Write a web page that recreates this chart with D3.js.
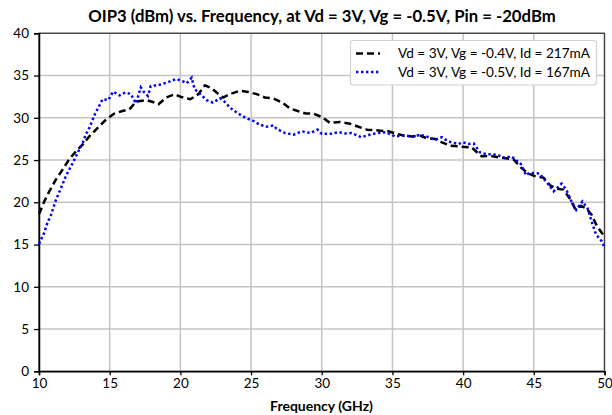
<!DOCTYPE html>
<html><head><meta charset="utf-8">
<script src="https://cdn.jsdelivr.net/npm/d3@7"></script>
<style>html,body{margin:0;padding:0;background:#fff;}svg{display:block;}</style>
</head><body>
<svg id="c" width="612" height="415"></svg>
<script>
const title = "OIP3 (dBm) vs. Frequency, at Vd = 3V, Vg = -0.5V, Pin = -20dBm";
const xLabel = "Frequency (GHz)";
const xTicks = [10, 15, 20, 25, 30, 35, 40, 45, 50];
const yTicks = [0, 5, 10, 15, 20, 25, 30, 35, 40];
const seriesNames = ["Vd = 3V, Vg = -0.4V, Id = 217mA", "Vd = 3V, Vg = -0.5V, Id = 167mA"];

const freqA = [10.0,10.37,10.73,11.2,11.68,12.14,12.62,13.1,13.56,14.15,14.74,15.33,15.9,16.4,16.85,17.6,18.0,18.45,19.0,19.6,20.0,20.7,21.27,21.74,22.2,22.7,23.03,23.5,24.2,24.8,25.4,25.98,26.57,27.2,27.75,28.3,28.9,29.4,30.0,30.58,31.3,32.0,32.5,33.2,34.0,34.7,35.2,35.8,36.35,36.95,37.4,38.0,38.5,39.1,39.8,40.6,41.0,41.3,41.9,42.6,43.55,44.1,44.6,45.07,45.7,46.15,46.6,47.1,47.6,47.93,48.3,48.7,49.1,49.4,49.8,50.0];
const oipA  = [18.6,20.1,21.3,22.7,23.9,25.1,26.05,26.85,27.8,28.8,29.8,30.5,30.8,31.0,31.9,32.1,31.9,31.6,32.4,32.8,32.5,32.2,32.8,33.85,33.5,32.8,32.4,32.8,33.2,33.05,32.8,32.4,32.3,31.8,31.1,30.8,30.5,30.5,30.1,29.4,29.5,29.3,29.0,28.6,28.5,28.4,28.15,27.9,27.8,27.9,27.6,27.5,27.1,26.7,26.6,26.5,25.9,25.45,25.5,25.3,25.1,24.1,23.4,23.1,22.9,22.0,21.6,21.5,20.3,19.2,19.6,19.3,18.5,17.4,16.4,16.0];

const freqB = [10.0,10.37,10.6,10.85,11.2,11.56,11.9,12.4,12.74,13.1,13.3,13.56,13.8,14.0,14.26,14.5,14.9,15.25,15.7,16.1,16.5,16.86,17.2,17.45,17.7,17.9,18.5,19.1,19.7,20.2,20.45,20.8,21.0,21.4,21.86,22.3,22.8,23.2,23.5,24.0,24.6,25.2,25.6,26.1,26.6,26.8,27.4,28.0,28.6,29.2,29.7,30.0,30.6,31.2,31.65,32.1,32.8,33.4,34.0,34.5,35.2,35.9,36.5,36.95,37.4,38.0,38.5,38.95,39.65,40.0,40.36,40.75,41.2,41.65,42.36,42.95,43.4,43.8,44.1,44.45,44.7,45.4,45.9,46.4,46.96,47.3,47.66,48.0,48.44,48.8,49.15,49.4,49.8,50.0];
const oipB  = [15.1,16.4,17.6,18.5,20.3,21.7,23.1,24.7,25.9,27.05,28.0,28.8,29.8,30.6,31.4,32.2,32.1,33.1,32.65,33.0,32.8,31.7,33.6,33.0,32.6,33.75,33.9,34.2,34.6,34.3,34.1,34.75,33.4,32.8,32.1,31.8,32.3,31.8,31.2,30.6,30.0,29.6,29.2,28.95,29.1,28.7,28.2,28.0,28.4,28.2,28.6,28.1,28.1,28.3,28.15,28.2,27.7,28.0,28.2,28.3,27.8,27.9,27.75,28.0,27.8,27.4,27.7,27.2,26.9,27.1,26.9,26.95,25.9,25.7,25.65,25.25,25.45,24.9,24.5,23.2,23.5,23.4,22.4,21.3,22.2,21.5,20.1,19.1,20.1,19.3,17.4,16.2,15.4,14.7];

const FONT = "Lato, 'Open Sans', sans-serif";
const svg = d3.select("#c");
const L = 39, R = 604.5, T = 33.3, B = 371.3;
const x = d3.scaleLinear().domain([10, 50]).range([L, R]);
const y = d3.scaleLinear().domain([0, 40]).range([B, T]);

function fitText(sel, target) {
  const n = sel.node();
  const w = n.getComputedTextLength();
  const fs = parseFloat(sel.attr("font-size"));
  if (w > 0) sel.attr("font-size", (fs * target / w).toFixed(2));
}

// grid
const grid = svg.append("g").attr("stroke", "#c4c4c4").attr("stroke-width", 1.5);
grid.selectAll("line.v").data(xTicks).join("line")
  .attr("x1", d => x(d)).attr("x2", d => x(d)).attr("y1", T).attr("y2", B);
grid.selectAll("line.h").data(yTicks).join("line")
  .attr("y1", d => y(d)).attr("y2", d => y(d)).attr("x1", L).attr("x2", R);

// frame top/right
svg.append("rect").attr("x", L).attr("y", T).attr("width", R - L).attr("height", B - T)
  .attr("fill", "none").attr("stroke", "#404040").attr("stroke-width", 1.3);

// axes
const xAxis = svg.append("g").attr("transform", `translate(0,${B})`)
  .call(d3.axisBottom(x).tickValues(xTicks).tickSize(4).tickPadding(3).tickFormat(d3.format("d")));
const yAxis = svg.append("g").attr("transform", `translate(${L},0)`)
  .call(d3.axisLeft(y).tickValues(yTicks).tickSize(5).tickPadding(5).tickFormat(d3.format("d")));
[xAxis, yAxis].forEach(a => {
  a.select(".domain").attr("stroke", "#000").attr("stroke-width", 1.5);
  a.selectAll(".tick line").attr("stroke", "#000").attr("stroke-width", 1.3);
  a.selectAll("text").attr("font-family", FONT).attr("font-size", 13.5).attr("fill", "#000");
});

// lines
const line = d3.line().x(d => x(d[0])).y(d => y(d[1]));
const dataA = freqA.map((f, i) => [f, oipA[i]]);
const dataB = freqB.map((f, i) => [f, oipB[i]]);
const clip = svg.append("clipPath").attr("id", "clp").append("rect")
  .attr("x", L).attr("y", T - 5).attr("width", R - L).attr("height", B - T + 5);
svg.append("path").datum(dataA).attr("d", line).attr("fill", "none")
  .attr("stroke", "#000").attr("stroke-width", 2.5).attr("stroke-dasharray", "7,4")
  .attr("stroke-linejoin", "round");
svg.append("path").datum(dataB).attr("d", line).attr("fill", "none")
  .attr("stroke", "#0000ff").attr("stroke-width", 2.5).attr("stroke-dasharray", "2.4,2.6");

// title
const t = svg.append("text").attr("x", 322).attr("y", 22).attr("text-anchor", "middle")
  .attr("font-family", FONT).attr("font-weight", "bold").attr("font-size", 14.5).attr("fill", "#000")
  .text(title);
fitText(t, 468);

// x label
const xl = svg.append("text").attr("x", 321.5).attr("y", 411).attr("text-anchor", "middle")
  .attr("font-family", FONT).attr("font-weight", "bold").attr("font-size", 12.5).attr("fill", "#000")
  .text(xLabel);
fitText(xl, 103);

// legend
const lg = svg.append("g");
lg.append("rect").attr("x", 350.5).attr("y", 40.5).attr("width", 246).attr("height", 44.5)
  .attr("rx", 3).attr("fill", "#fff").attr("stroke", "#d0d0d0").attr("stroke-width", 1.2);
const styles = [{c: "#000", dash: "7,4"}, {c: "#0000ff", dash: "2.4,2.6"}];
seriesNames.forEach((name, i) => {
  const cy = 53.5 + i * 18.5;
  lg.append("line").attr("x1", 356).attr("x2", 380).attr("y1", cy).attr("y2", cy)
    .attr("stroke", styles[i].c).attr("stroke-width", 2.5).attr("stroke-dasharray", styles[i].dash);
  const tx = lg.append("text").attr("x", 398).attr("y", cy).attr("dy", "0.35em")
    .attr("font-family", FONT).attr("font-size", 13.5).attr("fill", "#000").text(name);
  fitText(tx, 192);
});
</script>
</body></html>
